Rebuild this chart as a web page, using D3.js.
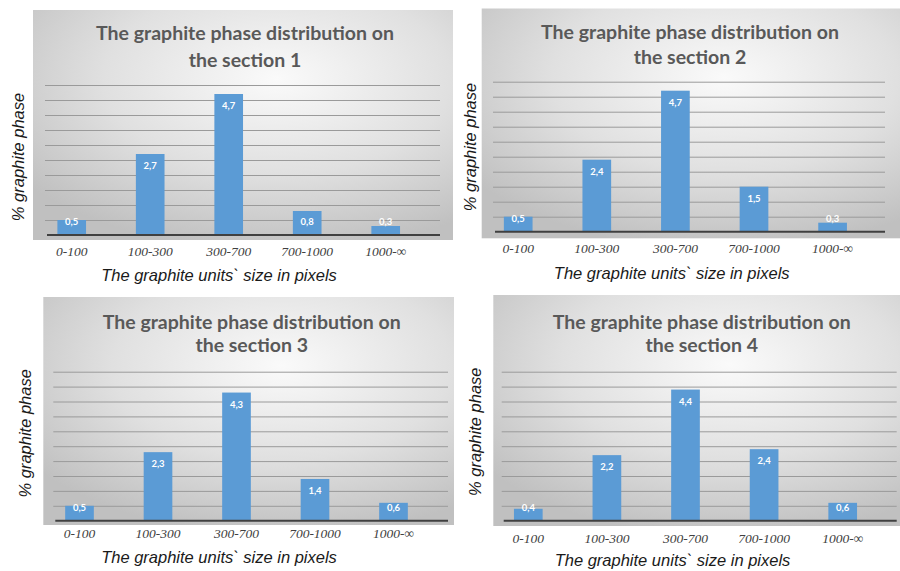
<!DOCTYPE html>
<html>
<head>
<meta charset="utf-8">
<script src="https://cdn.jsdelivr.net/npm/d3@7"></script>
<style>
  html, body { margin: 0; padding: 0; background: #ffffff; }
  svg { display: block; }
  .cat { font-family: "Liberation Serif", "DejaVu Serif", serif; font-style: italic; }
</style>
</head>
<body>
<svg id="chart" width="900" height="571"></svg>
<script>
// ---------- data ----------
const categories = ["0-100", "100-300", "300-700", "700-1000", "1000-\u221E"];
const section1 = [0.5, 2.7, 4.7, 0.8, 0.3];
const section2 = [0.5, 2.4, 4.7, 1.5, 0.3];
const section3 = [0.5, 2.3, 4.3, 1.4, 0.6];
const section4 = [0.4, 2.2, 4.4, 2.4, 0.6];
const sectionNames = ["1", "2", "3", "4"];
const gridValues = [0.5, 1, 1.5, 2, 2.5, 3, 3.5, 4, 4.5, 5];
const yMax = 5;
const titleLine1 = "The graphite phase distribution on";
const xTitle = "The graphite units` size in pixels";
const yTitle = "% graphite phase";

// ---------- layout (positions only) ----------
const layouts = [
  { bg: [33, 10, 453, 240], grid: [45, 440], yTop: 85, base: 235, band: [32.45, 424.95],
    tx: 245, ty1: 33, ty2: 60, catY: 251.7, xt: [219, 275], yt: [18, 157] },
  { bg: [481.7, 8.5, 900, 238.3], grid: [493, 885], yTop: 81.7, base: 231.7, band: [478.9, 871.9],
    tx: 690, ty1: 31.7, ty2: 56.7, catY: 248.3, xt: [671.7, 272.7], yt: [470, 147] },
  { bg: [43.3, 297, 454, 525], grid: [53.3, 448], yTop: 371.7, base: 520.7, band: [40.25, 432.75],
    tx: 251.7, ty1: 321.7, ty2: 345, catY: 533.3, xt: [219, 556.7], yt: [25, 433.3] },
  { bg: [493.3, 295, 900, 526], grid: [501.7, 896.7], yTop: 371.7, base: 520.7, band: [489, 882],
    tx: 701.7, ty1: 321.7, ty2: 345, catY: 538.3, xt: [672.5, 560], yt: [475, 431.7] }
];
const seriesList = [section1, section2, section3, section4];

const svg = d3.select("#chart");
const defs = svg.append("defs");
const grad = defs.append("radialGradient")
  .attr("id", "bgGrad").attr("cx", "58%").attr("cy", "30%").attr("r", "75%")
  .attr("fx", "58%").attr("fy", "30%");
grad.append("stop").attr("offset", "0%").attr("stop-color", "#fafafa");
grad.append("stop").attr("offset", "55%").attr("stop-color", "#e0e0e0");
grad.append("stop").attr("offset", "100%").attr("stop-color", "#c0c0c0");

seriesList.forEach((values, i) => {
  const L = layouts[i];
  const g = svg.append("g");

  // background
  g.append("rect")
    .attr("x", L.bg[0]).attr("y", L.bg[1])
    .attr("width", L.bg[2] - L.bg[0]).attr("height", L.bg[3] - L.bg[1])
    .attr("fill", "url(#bgGrad)");

  const x = d3.scaleBand().domain(categories).range(L.band)
    .paddingInner(0.635).paddingOuter(0.3175);
  const y = d3.scaleLinear().domain([0, yMax]).range([L.base, L.yTop]);

  // gridlines
  const gridAxis = d3.axisLeft(y).tickValues(gridValues)
    .tickSize(-(L.grid[1] - L.grid[0])).tickFormat("");
  const gg = g.append("g").attr("transform", `translate(${L.grid[0]},0)`).call(gridAxis);
  gg.select(".domain").remove();
  gg.selectAll(".tick line").attr("stroke", "#9a9a9a").attr("stroke-width", 1);

  // bars
  g.selectAll("rect.bar").data(values).enter().append("rect")
    .attr("class", "bar")
    .attr("x", (d, k) => x(categories[k]))
    .attr("y", d => y(d))
    .attr("width", x.bandwidth())
    .attr("height", d => y(0) - y(d))
    .attr("fill", "#5b9bd5");

  // baseline
  g.append("line")
    .attr("x1", L.grid[0] + 2).attr("x2", L.grid[1])
    .attr("y1", y(0)).attr("y2", y(0))
    .attr("stroke", "#404040").attr("stroke-width", 2);

  // data labels
  g.selectAll("text.lbl").data(values).enter().append("text")
    .attr("class", "lbl")
    .attr("x", (d, k) => x(categories[k]) + x.bandwidth() / 2)
    .attr("y", d => Math.min(y(d) + 12, y(0) - 13) + 3.3)
    .attr("text-anchor", "middle")
    .style("font-family", "Lato, 'Open Sans', sans-serif")
    .style("font-weight", "bold")
    .style("font-size", "9.5px")
    .attr("fill", "#ffffff")
    .text(d => String(d).replace(".", ","));

  // category axis
  const xAxis = d3.axisBottom(x).tickSize(0).tickPadding(0);
  const xa = g.append("g").attr("transform", `translate(0,${L.catY + 4.5})`).call(xAxis);
  xa.attr("font-family", null).attr("font-size", null);
  xa.select(".domain").remove();
  xa.selectAll("text")
    .attr("dy", 0).attr("y", 0)
    .attr("class", "cat")
    .style("font-size", "13.5px")
    .attr("fill", "#404040");

  // title
  const t = g.append("text")
    .attr("text-anchor", "middle")
    .style("font-family", "Lato, 'Open Sans', sans-serif")
    .style("font-weight", "bold")
    .style("font-size", "19.5px")
    .attr("fill", "#595959");
  t.append("tspan").attr("x", L.tx).attr("y", L.ty1 + 7).text(titleLine1);
  t.append("tspan").attr("x", L.tx).attr("y", L.ty2 + 7).text("the section " + sectionNames[i]);

  // x title
  g.append("text")
    .attr("x", L.xt[0]).attr("y", L.xt[1] + 6)
    .attr("text-anchor", "middle")
    .style("font-family", "'Liberation Sans', Arial, sans-serif")
    .style("font-style", "italic")
    .style("font-size", "16.5px")
    .attr("fill", "#1a1a1a")
    .text(xTitle);

  // y title
  g.append("text")
    .attr("transform", `translate(${L.yt[0] + 6},${L.yt[1]}) rotate(-90)`)
    .attr("text-anchor", "middle")
    .style("font-family", "'Liberation Sans', Arial, sans-serif")
    .style("font-style", "italic")
    .style("font-size", "16.5px")
    .attr("fill", "#1a1a1a")
    .text(yTitle);
});
</script>
</body>
</html>
